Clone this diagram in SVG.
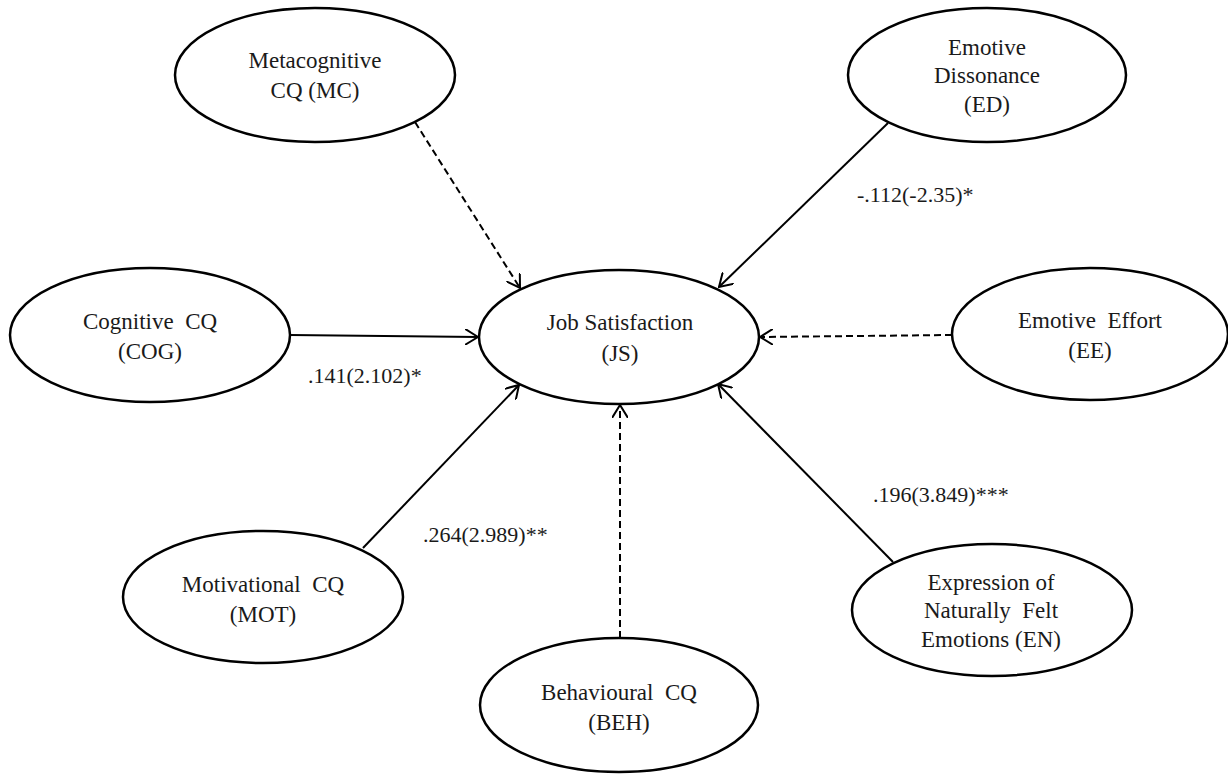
<svg xmlns="http://www.w3.org/2000/svg" width="1228" height="774" viewBox="0 0 1228 774">
<style>
.node ellipse { fill: #ffffff; stroke: #000000; stroke-width: 2.5; }
.node text, .lbl { font-family: "Liberation Serif", "Times New Roman", serif; font-size: 23px; fill: #1a1a1a; }
.node text { text-anchor: middle; }
.lbl { font-size: 22px; }
.edge { stroke: #000000; stroke-width: 2; fill: none; marker-end: url(#arr); }
.dash { stroke-dasharray: 7 4; }
</style>
<defs>
<marker id="arr" viewBox="0 0 14 16" refX="13" refY="8" markerWidth="14" markerHeight="16" markerUnits="userSpaceOnUse" orient="auto">
<path d="M0,0 L13,8 L0,16" fill="none" stroke="#000000" stroke-width="2"/>
</marker>
</defs>
<rect width="1228" height="774" fill="#ffffff"/>
<g id="connectors">
<line class="edge dash" x1="415" y1="122" x2="520" y2="288"/>
<line class="edge" x1="888" y1="123" x2="719" y2="287"/>
<line class="edge" x1="290" y1="335" x2="478" y2="337"/>
<line class="edge dash" x1="952" y1="335" x2="760" y2="337"/>
<line class="edge" x1="363" y1="548" x2="519" y2="385"/>
<line class="edge dash" x1="620" y1="638" x2="620" y2="405"/>
<line class="edge" x1="893" y1="562" x2="718" y2="384"/>
</g>
<g id="labels">
<text class="lbl" x="857" y="202">-.112(-2.35)*</text>
<text class="lbl" x="308" y="383">.141(2.102)*</text>
<text class="lbl" x="423" y="542">.264(2.989)**</text>
<text class="lbl" x="873" y="502">.196(3.849)***</text>
</g>
<g id="MC" class="node">
<ellipse cx="315" cy="75" rx="140" ry="67"/>
<text x="315" y="68">Metacognitive</text>
<text x="315" y="98">CQ (MC)</text>
</g>
<g id="ED" class="node">
<ellipse cx="987" cy="75" rx="139" ry="67"/>
<text x="987" y="55">Emotive</text>
<text x="987" y="83">Dissonance</text>
<text x="987" y="112">(ED)</text>
</g>
<g id="COG" class="node">
<ellipse cx="150" cy="335" rx="140" ry="67"/>
<text x="150" y="329" xml:space="preserve">Cognitive  CQ</text>
<text x="150" y="359">(COG)</text>
</g>
<g id="JS" class="node">
<ellipse cx="619" cy="337" rx="140" ry="67"/>
<text x="620" y="330">Job Satisfaction</text>
<text x="620" y="361">(JS)</text>
</g>
<g id="EE" class="node">
<ellipse cx="1090" cy="334" rx="138" ry="66"/>
<text x="1090" y="328" xml:space="preserve">Emotive  Effort</text>
<text x="1090" y="358">(EE)</text>
</g>
<g id="MOT" class="node">
<ellipse cx="263" cy="597" rx="140" ry="66"/>
<text x="263" y="592" xml:space="preserve">Motivational  CQ</text>
<text x="263" y="622">(MOT)</text>
</g>
<g id="BEH" class="node">
<ellipse cx="619" cy="705" rx="139" ry="67"/>
<text x="619" y="700" xml:space="preserve">Behavioural  CQ</text>
<text x="619" y="730">(BEH)</text>
</g>
<g id="EN" class="node">
<ellipse cx="992" cy="610" rx="140" ry="66"/>
<text x="991" y="590">Expression of</text>
<text x="991" y="618" xml:space="preserve">Naturally  Felt</text>
<text x="991" y="647">Emotions (EN)</text>
</g>
</svg>
